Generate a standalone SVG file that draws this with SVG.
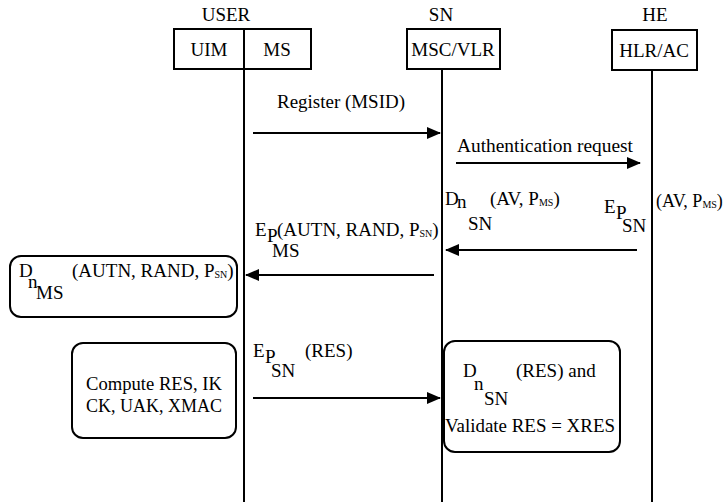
<svg xmlns="http://www.w3.org/2000/svg" width="725" height="502" viewBox="0 0 725 502" font-family="Liberation Serif, Times New Roman, serif" font-size="19">
<defs>
<marker id="ah" markerWidth="14" markerHeight="12" refX="13" refY="6" orient="auto" markerUnits="userSpaceOnUse">
<path d="M0,0 L14,6 L0,12 Z" fill="#000"/>
</marker>
<style>
text{font-family:'Liberation Serif','Times New Roman',serif;font-size:19px;fill:#000}
.s{font-size:10px}
.sm{font-size:18px}
.box{fill:#fff;stroke:#000;stroke-width:2}
.life{stroke:#000;stroke-width:2;fill:none}
.msg{stroke:#000;stroke-width:2;fill:none;marker-end:url(#ah)}
</style>
</defs>
<rect width="725" height="502" fill="#fff"/>

<g id="lifelines">
<line class="life" x1="244" y1="69" x2="244" y2="502"/>
<line class="life" x1="442" y1="69" x2="442" y2="502"/>
<line class="life" x1="652" y1="70" x2="652" y2="502"/>
</g>

<g id="user">
<text x="226" y="21" text-anchor="middle">USER</text>
<rect class="box" x="174" y="29" width="137" height="40"/>
<line class="life" x1="244" y1="29" x2="244" y2="69"/>
<text x="209" y="56" text-anchor="middle">UIM</text>
<text x="277" y="56" text-anchor="middle">MS</text>
</g>

<g id="sn">
<text x="441" y="21" text-anchor="middle">SN</text>
<rect class="box" x="407" y="29" width="93" height="40"/>
<text x="453" y="56" text-anchor="middle">MSC/VLR</text>
</g>

<g id="he">
<text x="655" y="21" text-anchor="middle">HE</text>
<rect class="box" x="612" y="30" width="85" height="40"/>
<text x="654" y="57" text-anchor="middle">HLR/AC</text>
</g>

<g id="connectors">
<line class="msg" x1="253" y1="133" x2="440" y2="133"/>
<line class="msg" x1="456" y1="163" x2="640" y2="163"/>
<line class="msg" x1="637" y1="250" x2="446" y2="250"/>
<line class="msg" x1="434" y1="275" x2="246" y2="275"/>
<line class="msg" x1="253" y1="398" x2="440" y2="398"/>
</g>

<g id="labels">
<text x="277" y="108" textLength="128" lengthAdjust="spacingAndGlyphs">Register (MSID)</text>
<text x="457" y="152" textLength="176" lengthAdjust="spacingAndGlyphs">Authentication request</text>
<text x="445" y="205">D<tspan x="457" y="208">n</tspan><tspan x="490" y="205">(AV, P</tspan><tspan class="s" dy="1">MS</tspan><tspan dy="-1">)</tspan><tspan x="468" y="230">SN</tspan></text>
<text x="604" y="213">E<tspan x="616" y="219">P</tspan><tspan x="622" y="232">SN</tspan></text>
<text class="sm" x="656" y="207">(AV, P<tspan class="s" dy="1">MS</tspan><tspan dy="-1">)</tspan></text>
<text x="255" y="236">E<tspan x="267" y="242">P</tspan><tspan x="277" y="236">(AUTN, RAND, P</tspan><tspan class="s" dy="1">SN</tspan><tspan dy="-1">)</tspan><tspan x="272" y="257">MS</tspan></text>
<text x="253" y="357">E<tspan x="265" y="363">P</tspan><tspan x="271" y="377">SN</tspan><tspan x="305" y="357">(RES)</tspan></text>
</g>

<g id="decrypt-ms">
<rect class="box" x="10" y="256" width="227" height="61" rx="11"/>
<text x="19" y="277">D<tspan x="28" y="288">n</tspan><tspan x="36" y="299">MS</tspan><tspan x="72" y="277">(AUTN, RAND, P</tspan><tspan class="s" dy="1">SN</tspan><tspan dy="-1">)</tspan></text>
</g>

<g id="compute">
<rect class="box" x="72" y="343" width="164" height="95" rx="11"/>
<text x="86" y="390" textLength="136" lengthAdjust="spacingAndGlyphs">Compute RES, IK</text>
<text x="86" y="412" textLength="136" lengthAdjust="spacingAndGlyphs">CK, UAK, XMAC</text>
</g>

<g id="validate">
<rect class="box" x="444" y="341" width="176" height="111" rx="11"/>
<text x="463" y="377">D<tspan x="474" y="390">n</tspan><tspan x="484" y="405">SN</tspan><tspan x="516" y="377">(RES) and</tspan></text>
<text x="445" y="432" textLength="170" lengthAdjust="spacingAndGlyphs">Validate RES = XRES</text>
</g>
</svg>
